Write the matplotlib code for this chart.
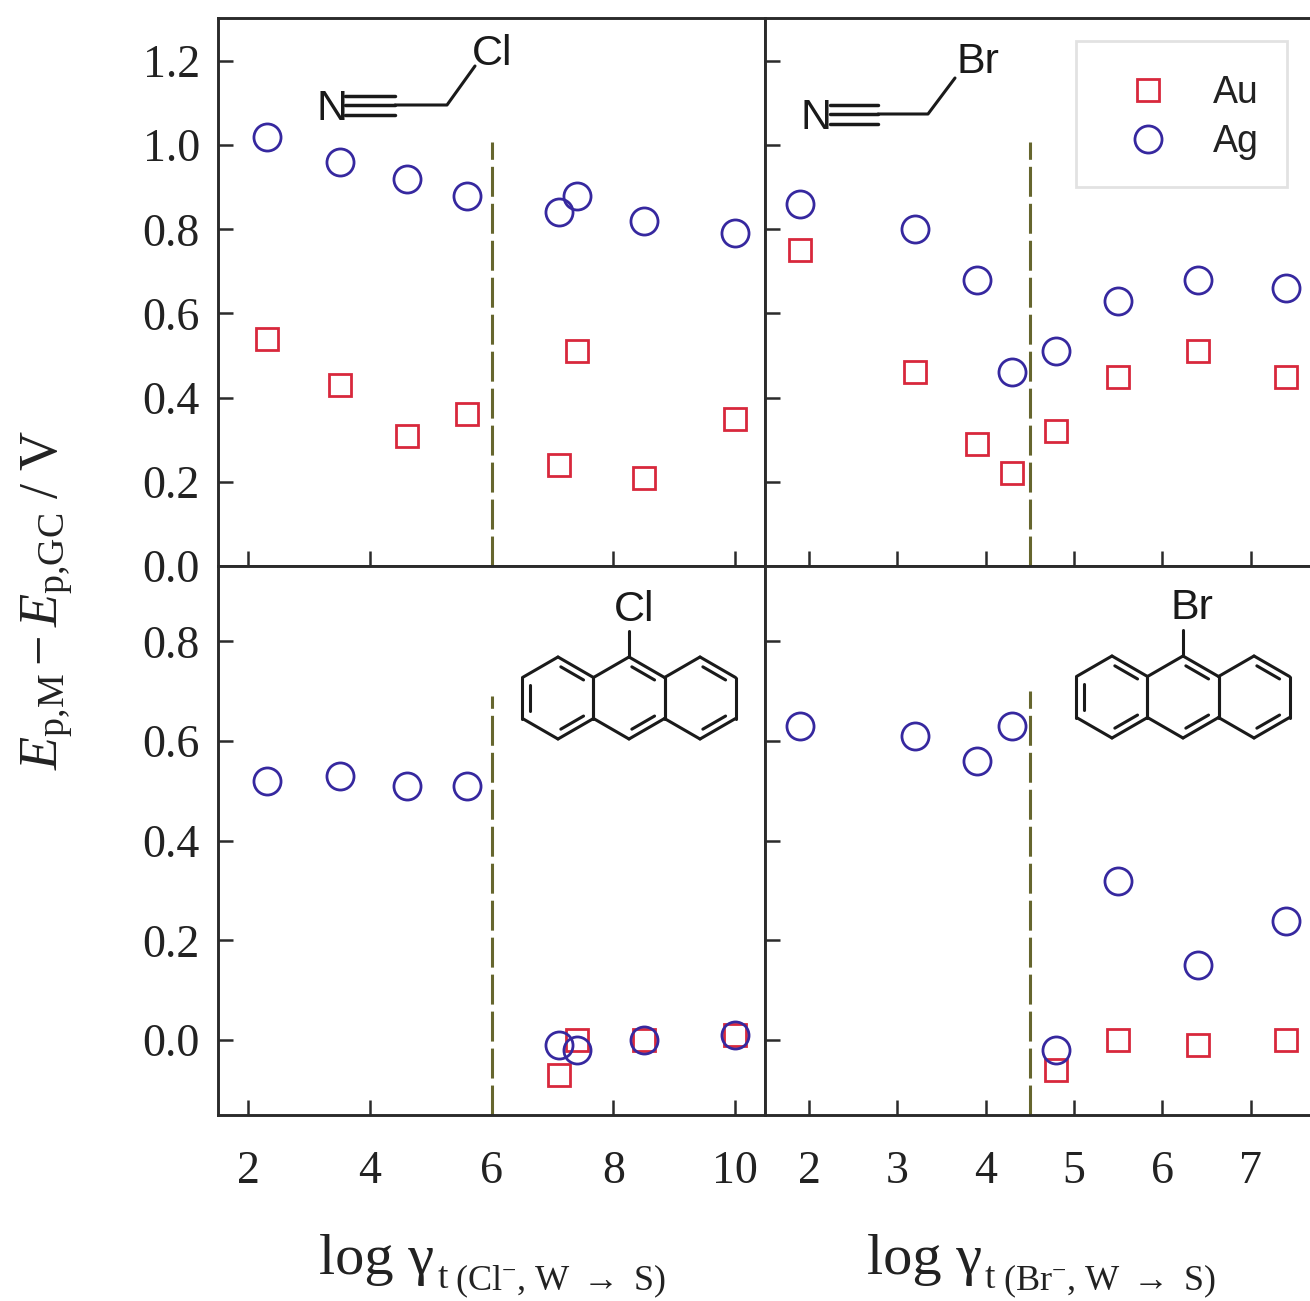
import numpy as np
import matplotlib
matplotlib.use('Agg')
import matplotlib.pyplot as plt
from matplotlib.patches import Rectangle

plt.rcParams['font.family'] = ['Liberation Serif', 'DejaVu Serif']
plt.rcParams['mathtext.fontset'] = 'custom'
plt.rcParams['mathtext.rm'] = 'Liberation Serif'
plt.rcParams['mathtext.it'] = 'Liberation Serif:italic'

W, H = 1310, 1301

# chloride side
x_cl = [2.3, 3.5, 4.6, 5.6, 7.1, 7.4, 8.5, 10.0]
au_top_cl = [0.54, 0.43, 0.31, 0.36, 0.24, 0.51, 0.21, 0.35]
ag_top_cl = [1.02, 0.96, 0.92, 0.88, 0.84, 0.88, 0.82, 0.79]
x_au_bot_cl = [7.1, 7.4, 8.5, 10.0]
au_bot_cl = [-0.07, 0.0, 0.0, 0.01]
ag_bot_cl = [0.52, 0.53, 0.51, 0.51, -0.01, -0.02, 0.0, 0.01]

# bromide side
x_br = [1.9, 3.2, 3.9, 4.3, 4.8, 5.5, 6.4, 7.4]
au_top_br = [0.75, 0.46, 0.29, 0.22, 0.32, 0.45, 0.51, 0.45]
ag_top_br = [0.86, 0.80, 0.68, 0.46, 0.51, 0.63, 0.68, 0.66]
x_au_bot_br = [4.8, 5.5, 6.4, 7.4]
au_bot_br = [-0.06, 0.0, -0.01, 0.0]
ag_bot_br = [0.63, 0.61, 0.56, 0.63, -0.02, 0.32, 0.15, 0.24]

xticks_cl = [2, 4, 6, 8, 10]
xticks_br = [2, 3, 4, 5, 6, 7]
yticks_top = [0.0, 0.2, 0.4, 0.6, 0.8, 1.0, 1.2]
yticks_bot = [0.0, 0.2, 0.4, 0.6, 0.8]

RED = '#d8283c'
BLUE = '#36289f'
DARK = '#2b2b2b'
OLIVE = '#66662e'


def px_axes(l, t, r, b):
    return fig.add_axes([l / W, 1 - b / H, (r - l) / W, (b - t) / H])


def draw_points(ax, xa, ya, xb, yb):
    ax.plot(xa, ya, ls='none', marker='s', ms=15.5, mfc='none', mec=RED, mew=2.0, label='Au')
    ax.plot(xb, yb, ls='none', marker='o', ms=19.5, mfc='none', mec=BLUE, mew=2.0, label='Ag')


def style_axes(ax, xlim, ylim, xticks, yticks):
    ax.set_xlim(*xlim)
    ax.set_ylim(*ylim)
    ax.set_xticks(xticks)
    ax.set_yticks(yticks)
    ax.tick_params(direction='in', length=10.5, width=1.8, color=DARK, labelsize=33,
                   labelcolor='#222222')
    ax.tick_params(axis='x', pad=25.5)
    ax.tick_params(axis='y', pad=13)
    for s in ax.spines.values():
        s.set_linewidth(2.1)
        s.set_color(DARK)


fig = plt.figure(figsize=(W / 100, H / 100), dpi=100, facecolor='white')

ax_tl = px_axes(218, 18, 765, 566)
ax_tr = px_axes(765, 18, 1310, 566)
ax_bl = px_axes(218, 566, 765, 1115)
ax_br = px_axes(765, 566, 1310, 1115)

ylim_top = (0.0, 1.302)
ylim_bot = (-0.15, 0.951)
xlim_cl = (1.5, 10.49)
xlim_br = (1.5, 7.67)

draw_points(ax_tl, x_cl, au_top_cl, x_cl, ag_top_cl)
draw_points(ax_tr, x_br, au_top_br, x_br, ag_top_br)
draw_points(ax_bl, x_au_bot_cl, au_bot_cl, x_cl, ag_bot_cl)
draw_points(ax_br, x_au_bot_br, au_bot_br, x_br, ag_bot_br)

style_axes(ax_tl, xlim_cl, ylim_top, xticks_cl, yticks_top)
style_axes(ax_tr, xlim_br, ylim_top, xticks_br, yticks_top)
style_axes(ax_bl, xlim_cl, ylim_bot, xticks_cl, yticks_bot)
style_axes(ax_br, xlim_br, ylim_bot, xticks_br, yticks_bot)

ax_tl.tick_params(labelbottom=False)
ax_tr.tick_params(labelbottom=False, labelleft=False)
ax_br.tick_params(labelleft=False)
for a in (ax_tr, ax_br):
    a.spines['right'].set_visible(False)

# dashed separators
dash = dict(color=OLIVE, lw=2.2, dashes=(9.8, 2.3))
ax_tl.plot([6, 6], [0.0, 1.007], **dash)
ax_tr.plot([4.5, 4.5], [0.0, 1.007], **dash)
ax_bl.plot([6, 6], [-0.15, 0.69], **dash)
ax_br.plot([4.5, 4.5], [-0.15, 0.70], **dash)

leg = ax_tr.legend(loc='center', bbox_to_anchor=(0.770, 0.8185), frameon=False,
                   prop={'family': 'Liberation Sans', 'size': 27},
                   handletextpad=0.72, labelspacing=0.34, markerscale=1.0)
for t in leg.get_texts():
    t.set_color('#222222')

# overlay in image pixels for the structure sketches and labels
ov = fig.add_axes([0, 0, 1, 1], zorder=5)
ov.set_xlim(0, W)
ov.set_ylim(H, 0)
ov.axis('off')
ov.patch.set_alpha(0)

ov.add_patch(Rectangle((1076, 41), 211, 146, fill=False, ec='#e2e2e2', lw=2.0))


def bond(xs, ys, lw=2.2):
    ov.plot(xs, ys, color='#1a1a1a', lw=lw, solid_capstyle='round')


def sans(x, y, s, size=31):
    ov.text(x, y, s, family='Liberation Sans', fontsize=size, ha='center', va='center', color='#1a1a1a')


def nitrile(nx, ny, x0, x1, x2, xh, yh, label, lx, ly):
    sans(nx, ny + 3, 'N')
    for dy in (-9.5, 0, 9.5):
        bond([x0, x1], [ny - 1 + dy, ny - 1 + dy], lw=2.5)
    bond([x1, x2, xh], [ny - 1, ny - 1, yh])
    sans(lx, ly + 2, label)


def hexagon(cx, cy, r, dbl):
    ang = np.radians([90, 30, -30, -90, -150, 150])
    hx = cx + r * np.cos(ang)
    hy = cy - r * np.sin(ang)
    for i in range(6):
        j = (i + 1) % 6
        bond([hx[i], hx[j]], [hy[i], hy[j]])
        if i in dbl:
            mx, my = cx + 0.8 * (hx[i] - cx), cy + 0.8 * (hy[i] - cy)
            nx, ny = cx + 0.8 * (hx[j] - cx), cy + 0.8 * (hy[j] - cy)
            # shorten the inner stroke a bit
            bond([mx + 0.1 * (nx - mx), nx - 0.1 * (nx - mx)],
                 [my + 0.1 * (ny - my), ny - 0.1 * (ny - my)])


def anthracene(cx, cy, label, lx, ly):
    r = 41
    dx = r * np.cos(np.radians(30)) * 2
    hexagon(cx - dx, cy, r, [0, 2, 4])
    hexagon(cx, cy, r, [0, 2])
    hexagon(cx + dx, cy, r, [0, 2])
    bond([cx, cx], [cy - r, cy - r - 26])
    sans(lx, ly + 1, label)


nitrile(332, 106, 345, 395, 447, 475, 66, 'Cl', 492, 52)
nitrile(816, 115, 830, 878, 928, 955, 78, 'Br', 978, 60)
anthracene(629, 698, 'Cl', 634, 609)
anthracene(1183, 697, 'Br', 1192, 607)


def serif(x, y, s, size):
    ov.text(x, y, s, fontsize=size, ha='left', va='baseline', color='#222222')


# x axis titles, built from pieces because the subscript is smaller than mathtext gives
serif(319, 1274, 'log γ', 42)
serif(438, 1288, 't', 27)
serif(455, 1290, r'(Cl$^{-}$, W $\rightarrow$ S)', 26)
serif(867, 1274, 'log γ', 42)
serif(985, 1288, 't', 27)
serif(1003, 1290, r'(Br$^{-}$, W $\rightarrow$ S)', 26)

ov.text(47, 600, r'$E_{\mathrm{p{,}M}} - E_{\mathrm{p{,}GC}}\ /\ \mathrm{V}$', fontsize=39,
        rotation=90, ha='center', va='center', color='#222222')

fig.savefig('out.png', dpi=100)
